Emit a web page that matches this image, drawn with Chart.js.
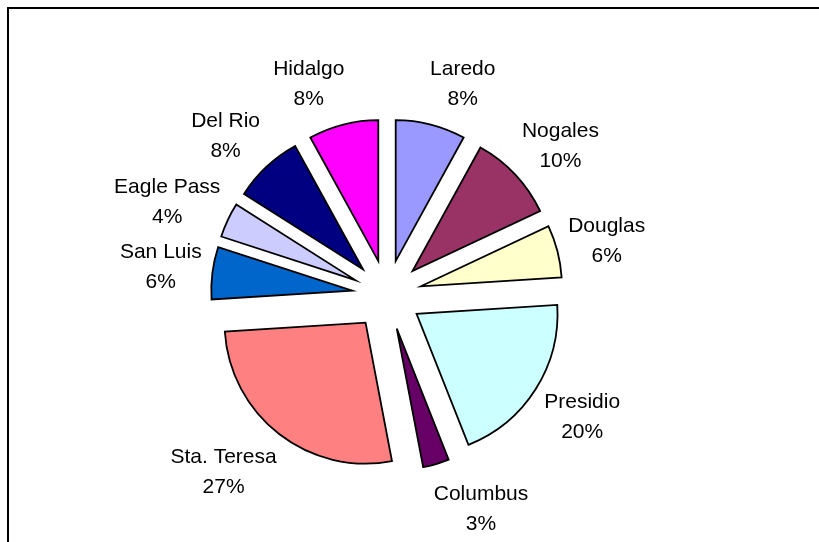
<!DOCTYPE html>
<html>
<head>
<meta charset="utf-8">
<script src="https://cdn.jsdelivr.net/npm/chart.js@4"></script>
<style>
  body { margin: 0; background: #fff; }
  #wrap { position: relative; width: 819px; height: 542px; }
  #frame { position: absolute; left: 7px; top: 7px; right: 0; bottom: 0;
           border-top: 2px solid #000; border-left: 2px solid #000; pointer-events: none; }
</style>
</head>
<body>
<div id="wrap">
  <canvas id="crossings"></canvas>
  <div id="frame"></div>
</div>
<script>
// share of crossings by port (percent), clockwise from 12 o'clock
var ports = ['Laredo', 'Nogales', 'Douglas', 'Presidio', 'Columbus',
             'Sta. Teresa', 'San Luis', 'Eagle Pass', 'Del Rio', 'Hidalgo'];
var shares = [8, 10, 6, 20, 3, 27, 6, 4, 8, 8];
var sliceColors = ['#9999FF', '#993366', '#FFFFCC', '#CCFFFF', '#660066',
                   '#FF8080', '#0066CC', '#CCCCFF', '#000080', '#FF00FF'];

var EXPLODE = 35;   // how far each slice is pulled out
var LABEL_R = 193;  // where labels sit from the pie centre
var FONT = '21px "Liberation Sans", Arial, sans-serif';

// pull every slice out along its middle angle (Excel style exploded pie)
var explode = {
    id: 'explode',
    afterDatasetUpdate: function(chart, args) {
        args.meta.data.forEach(function(arc) {
            var mid = (arc.startAngle + arc.endAngle) / 2;
            arc.x += Math.cos(mid) * EXPLODE;
            arc.y += Math.sin(mid) * EXPLODE;
        });
    }
};

// two-line labels outside each slice: name and percent
var sliceLabels = {
    id: 'sliceLabels',
    afterDatasetsDraw: function(chart) {
        var ctx = chart.ctx;
        var area = chart.chartArea;
        var cx = (area.left + area.right) / 2;
        var cy = (area.top + area.bottom) / 2;
        ctx.save();
        ctx.font = FONT;
        ctx.fillStyle = '#000';
        ctx.textAlign = 'center';
        ctx.textBaseline = 'middle';
        chart.getDatasetMeta(0).data.forEach(function(arc, i) {
            var mid = (arc.startAngle + arc.endAngle) / 2;
            var dx = Math.cos(mid), dy = Math.sin(mid);
            var pct = shares[i] + '%';
            var w = Math.max(ctx.measureText(ports[i]).width, ctx.measureText(pct).width);
            var x = cx + dx * LABEL_R + Math.sign(dx) * 0.85 * w / 2;
            var y = cy + dy * (LABEL_R + 25) + (dy > 0 ? 5 : 0);
            ctx.fillText(ports[i], x, y - 15);
            ctx.fillText(pct, x, y + 15);
        });
        ctx.restore();
    }
};

var ctx = document.getElementById('crossings').getContext('2d');
var crossings = new Chart(ctx, {
    type: 'pie',
    data: {
        labels: ports,
        datasets: [{
            data: shares,
            backgroundColor: sliceColors,
            borderColor: '#000',
            borderWidth: 1.8,
            borderJoinStyle: 'miter',
            radius: 141,
            clip: false
        }]
    },
    options: {
        responsive: true,
        maintainAspectRatio: false,
        animation: false,
        layout: {
            padding: { left: 0, right: 45, top: 48, bottom: 0 }
        },
        plugins: {
            legend: { display: false },
            tooltip: { enabled: false }
        },
        events: []
    },
    plugins: [explode, sliceLabels]
});
</script>
</body>
</html>
